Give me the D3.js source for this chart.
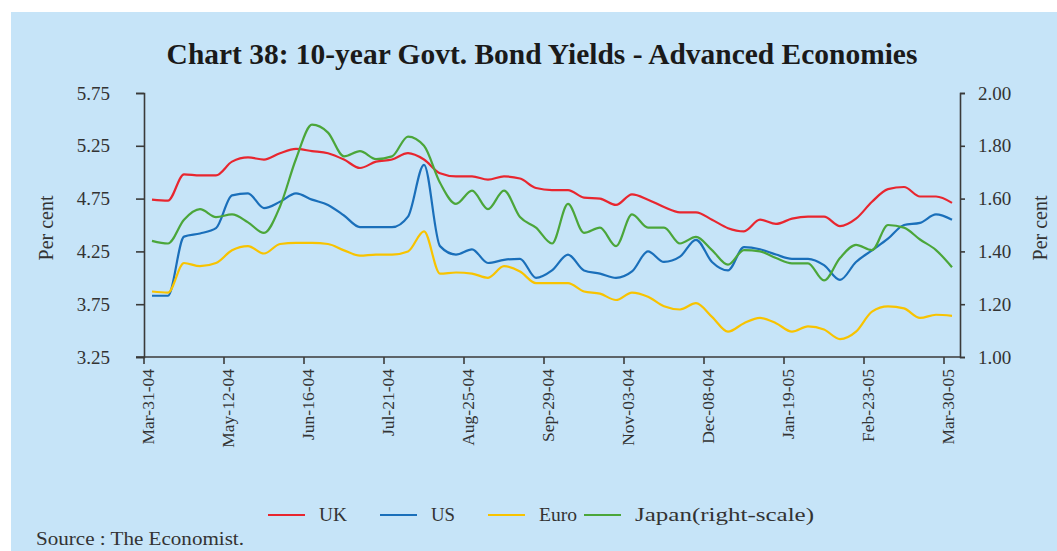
<!DOCTYPE html>
<html>
<head>
<meta charset="utf-8">
<script src="https://cdn.jsdelivr.net/npm/d3@7"></script>
<style>
  html, body { margin: 0; padding: 0; background: #ffffff; }
  svg { display: block; }
  text { font-family: "Liberation Serif", "Times New Roman", serif; }
</style>
</head>
<body>
<svg id="chart" width="1057" height="551"></svg>
<script>
// Weekly observations, 31 Mar 2004 - 30 Mar 2005
const categories = [
  "Mar-31-04","Apr-07-04","Apr-21-04","Apr-28-04","May-05-04","May-12-04",
  "May-19-04","May-26-04","Jun-02-04","Jun-09-04","Jun-16-04",
  "Jun-23-04","Jun-30-04","Jul-07-04","Jul-14-04","Jul-21-04",
  "Jul-28-04","Aug-04-04","Aug-11-04","Aug-18-04","Aug-25-04",
  "Sep-01-04","Sep-08-04","Sep-15-04","Sep-22-04","Sep-29-04",
  "Oct-06-04","Oct-13-04","Oct-20-04","Oct-27-04","Nov-03-04",
  "Nov-10-04","Nov-17-04","Nov-24-04","Dec-01-04","Dec-08-04",
  "Dec-15-04","Dec-22-04","Jan-05-05","Jan-12-05","Jan-19-05",
  "Jan-26-05","Feb-02-05","Feb-09-05","Feb-16-05","Feb-23-05",
  "Mar-02-05","Mar-09-05","Mar-16-05","Mar-23-05","Mar-30-05"
];

// 10-year government bond yields, per cent
const uk = [
  4.74,4.73,4.98,4.97,4.97,5.10,5.14,5.12,5.18,5.22,5.20,
  5.18,5.12,5.04,5.10,5.12,5.18,5.12,4.99,4.96,4.96,
  4.93,4.96,4.94,4.85,4.83,4.83,4.76,4.75,4.69,4.79,
  4.74,4.67,4.62,4.62,4.55,4.47,4.44,4.55,4.51,4.56,
  4.58,4.58,4.49,4.56,4.72,4.84,4.86,4.77,4.77,4.71
];
const us = [
  3.83,3.83,4.39,4.42,4.47,4.78,4.80,4.66,4.72,4.80,4.74,
  4.69,4.59,4.48,4.48,4.48,4.58,5.07,4.30,4.22,4.27,
  4.14,4.17,4.18,4.00,4.07,4.22,4.07,4.04,4.00,4.06,
  4.25,4.15,4.20,4.36,4.15,4.07,4.29,4.27,4.22,4.18,
  4.18,4.12,3.98,4.15,4.26,4.37,4.50,4.52,4.60,4.55
];
const euro = [
  3.87,3.86,4.14,4.11,4.14,4.26,4.30,4.23,4.32,4.33,4.33,
  4.32,4.26,4.21,4.22,4.22,4.25,4.44,4.04,4.05,4.04,
  4.00,4.11,4.06,3.95,3.95,3.95,3.87,3.85,3.79,3.86,
  3.82,3.73,3.70,3.76,3.63,3.49,3.57,3.62,3.57,3.49,
  3.54,3.51,3.42,3.49,3.68,3.73,3.71,3.62,3.65,3.64
];
// Japan, plotted on the right-hand scale
const japan = [
  1.44,1.43,1.52,1.56,1.53,1.54,1.51,1.47,1.57,1.75,1.88,
  1.85,1.76,1.78,1.75,1.76,1.835,1.80,1.66,1.58,1.63,
  1.56,1.63,1.53,1.49,1.43,1.58,1.47,1.49,1.42,1.54,
  1.49,1.49,1.43,1.455,1.405,1.35,1.405,1.40,1.375,1.355,
  1.355,1.29,1.375,1.425,1.405,1.50,1.49,1.445,1.405,1.34
];

const leftTicks = [3.25, 3.75, 4.25, 4.75, 5.25, 5.75];
const rightTicks = [1.00, 1.20, 1.40, 1.60, 1.80, 2.00];

const series = [
  { name: "UK", values: uk, color: "#e8262f", axis: "left" },
  { name: "US", values: us, color: "#1a6fba", axis: "left" },
  { name: "Euro", values: euro, color: "#f8c300", axis: "left" },
  { name: "Japan(right-scale)", values: japan, color: "#4ba63a", axis: "right" }
];

const W = 1057, H = 551;
const svg = d3.select("#chart");
const axisColor = "#3a3a3a";
const textColor = "#333333";

// panel background
svg.append("rect").attr("x", 11).attr("y", 12).attr("width", W - 11).attr("height", H - 12)
  .attr("fill", "#c6e4f8");

const plot = { left: 144, right: 960, top: 93, bottom: 357 };

const x = d3.scaleBand().domain(categories).range([plot.left, plot.right]).padding(0);
const yL = d3.scaleLinear().domain([3.25, 5.75]).range([plot.bottom, plot.top]);
const yR = d3.scaleLinear().domain([1.00, 2.00]).range([plot.bottom, plot.top]);
const cx = d => x(d) + x.bandwidth() / 2;

// title
const title = svg.append("text")
  .attr("x", 542).attr("y", 64)
  .attr("text-anchor", "middle")
  .attr("font-weight", "bold")
  .attr("font-size", 24)
  .attr("fill", "#1a1a1a")
  .text("Chart 38: 10-year Govt. Bond Yields - Advanced Economies");
const tl = title.node().getComputedTextLength();
title.attr("font-size", (24 * 751 / tl).toFixed(2));

// left axis
const gL = svg.append("g").attr("transform", `translate(${plot.left},0)`)
  .call(d3.axisLeft(yL).tickValues(leftTicks).tickFormat(d3.format(".2f")).tickSize(8).tickPadding(26));
// right axis
const gR = svg.append("g").attr("transform", `translate(${plot.right},0)`)
  .call(d3.axisRight(yR).tickValues(rightTicks).tickFormat(d3.format(".2f")).tickSize(5).tickPadding(13));

[gL, gR].forEach(g => {
  g.select(".domain").attr("stroke", axisColor).attr("stroke-width", 1.6);
  g.selectAll(".tick line").attr("stroke", axisColor).attr("stroke-width", 1.6);
  g.selectAll(".tick text").attr("fill", textColor).attr("font-size", 19)
    .attr("font-family", "Liberation Serif, serif");
});

// bottom axis: labels every fifth week, ticks on band boundaries
const labelled = categories.filter((d, i) => i % 5 === 0);
const gX = svg.append("g").attr("transform", `translate(0,${plot.bottom})`);
gX.append("line").attr("x1", plot.left - 8).attr("x2", plot.right)
  .attr("stroke", axisColor).attr("stroke-width", 1.6);
gX.selectAll("line.tk").data(labelled).join("line").attr("class", "tk")
  .attr("x1", d => x(d)).attr("x2", d => x(d)).attr("y1", 0).attr("y2", 7)
  .attr("stroke", axisColor).attr("stroke-width", 1.6);
gX.selectAll("text").data(labelled).join("text")
  .attr("transform", d => `translate(${x(d) + 4},12) rotate(-90)`)
  .attr("text-anchor", "end").attr("dy", "0.35em")
  .attr("font-size", 17.5).attr("fill", textColor)
  .text(d => d);

// axis titles
svg.append("text").attr("transform", "translate(46,228) rotate(-90)")
  .attr("text-anchor", "middle").attr("dy", "0.35em")
  .attr("font-size", 20).attr("fill", textColor).text("Per cent");
svg.append("text").attr("transform", "translate(1040,228) rotate(-90)")
  .attr("text-anchor", "middle").attr("dy", "0.35em")
  .attr("font-size", 20).attr("fill", textColor).text("Per cent");

// series lines
series.forEach(s => {
  const y = s.axis === "left" ? yL : yR;
  const line = d3.line().x((v, i) => cx(categories[i])).y(v => y(v)).curve(d3.curveMonotoneX);
  svg.append("path").datum(s.values)
    .attr("d", line).attr("fill", "none")
    .attr("stroke", s.color).attr("stroke-width", 2.2)
    .attr("stroke-linejoin", "round");
});

// legend
const legendX = [268, 380, 488, 584];
const legendW = [28, 24, 38, 179];
const leg = svg.append("g");
series.forEach((s, i) => {
  const g = leg.append("g").attr("transform", `translate(${legendX[i]},515)`);
  g.append("line").attr("x1", 0).attr("x2", 37).attr("stroke", s.color).attr("stroke-width", 2.2);
  g.append("text").attr("x", 51).attr("dy", "0.35em").attr("font-size", 18)
    .attr("textLength", legendW[i]).attr("lengthAdjust", "spacingAndGlyphs")
    .attr("fill", textColor).text(s.name);
});

// source note
svg.append("text").attr("x", 36).attr("y", 545).attr("font-size", 18)
  .attr("textLength", 208).attr("lengthAdjust", "spacingAndGlyphs")
  .attr("fill", textColor).text("Source : The Economist.");
</script>
</body>
</html>
